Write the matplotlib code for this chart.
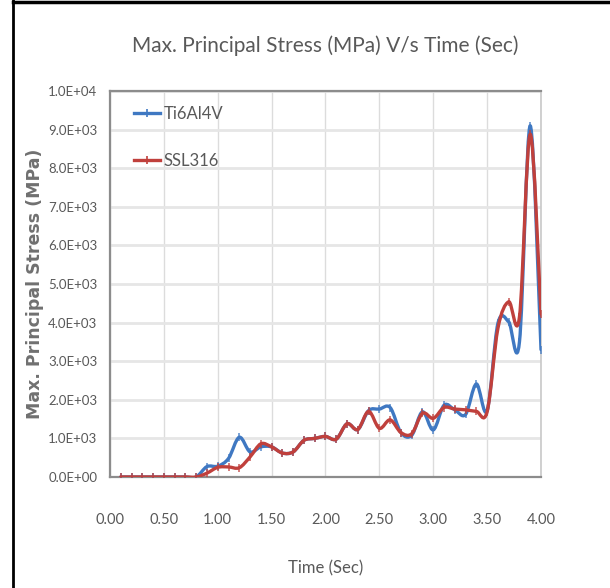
import numpy as np
import matplotlib
matplotlib.use("Agg")
from matplotlib import pyplot as plt
from matplotlib.path import Path
from matplotlib.patches import PathPatch
from matplotlib.lines import Line2D

# dati (passo 0.1 s)
time = [0.1, 0.2, 0.3, 0.4, 0.5, 0.6, 0.7, 0.8, 0.9, 1.0,
        1.1, 1.2, 1.3, 1.4, 1.5, 1.6, 1.7, 1.8, 1.9, 2.0,
        2.1, 2.2, 2.3, 2.4, 2.5, 2.6, 2.7, 2.8, 2.9, 3.0,
        3.1, 3.2, 3.3, 3.4, 3.5, 3.6, 3.7, 3.8, 3.9, 4.0]
ti6al4v = [0, 0, 0, 0, 0, 0, 0, 0, 270, 280,
           480, 1030, 650, 780, 780, 620, 650, 950, 1000, 1050,
           980, 1380, 1230, 1720, 1760, 1800, 1150, 1080, 1690, 1220,
           1860, 1740, 1620, 2410, 1720, 3980, 4020, 3500, 9100, 3300]
ssl316 = [0, 0, 0, 0, 0, 0, 0, 0, 100, 250,
          260, 240, 520, 860, 780, 620, 650, 950, 1000, 1050,
          980, 1380, 1230, 1700, 1260, 1480, 1150, 1120, 1650, 1520,
          1800, 1760, 1740, 1700, 1690, 3850, 4540, 4150, 8880, 4220]
series_names = ["Ti6Al4V", "SSL316"]
series_colors = ["#3f78c2", "#c0403c"]

xticks = [0.0, 0.5, 1.0, 1.5, 2.0, 2.5, 3.0, 3.5, 4.0]
yticks = list(range(0, 10001, 1000))

narrow = ["Lato", "DejaVu Sans"]
txt_col = "#595959"


def smooth_path(x, y):
    # linea "smussata" come in Excel: segmenti di Bezier cubici (Catmull-Rom)
    pts = np.column_stack([x, y]).astype(float)
    n = len(pts)
    verts = [pts[0]]
    codes = [Path.MOVETO]
    for i in range(n - 1):
        p0 = pts[i - 1] if i > 0 else pts[i]
        p1 = pts[i]
        p2 = pts[i + 1]
        p3 = pts[i + 2] if i + 2 < n else pts[i + 1]
        c1 = p1 + (p2 - p0) / 6
        c2 = p2 - (p3 - p1) / 6
        verts += [c1, c2, p2]
        codes += [Path.CURVE4] * 3
    return Path(verts, codes)


fig = plt.figure(figsize=(6.1, 5.88), dpi=100)
ax = fig.add_axes([0.1803, 0.1888, 0.7066, 0.6564])

for vals, name, col in zip([ti6al4v, ssl316], series_names, series_colors):
    patch = PathPatch(smooth_path(time, vals), facecolor="none", edgecolor=col,
                      lw=2.4, capstyle="round", joinstyle="round", zorder=3)
    ax.add_patch(patch)
    ax.plot(time, vals, ls="none", marker="|", ms=6, mew=1.2, color=col,
            alpha=0.8, zorder=3)

ax.set_xlim(0, 4)
ax.set_ylim(0, 10000)
ax.set_xticks(xticks)
ax.set_yticks(yticks)
ax.set_xticklabels([f"{v:.2f}" for v in xticks], family=narrow, fontsize=10.5, color=txt_col)
ax.set_yticklabels([f"{v:.1E}" for v in yticks], family=narrow, fontsize=9.5, color=txt_col)
ax.tick_params(axis="both", length=0)
ax.tick_params(axis="x", pad=26)
ax.tick_params(axis="y", pad=9)

ax.grid(axis="y", color="#e6e6e6", lw=2)
ax.grid(axis="x", color="#dcdcdc", lw=1)
ax.set_axisbelow(True)
for side in ["left", "bottom", "top"]:
    ax.spines[side].set_color("#8c8c8c")
    ax.spines[side].set_linewidth(1.6)
ax.spines["right"].set_color("#c8c8c8")
ax.spines["right"].set_linewidth(1.2)

ax.set_title("Max. Principal Stress (MPa) V/s Time (Sec)", family=narrow,
             fontsize=15, color=txt_col, pad=28)
ax.set_xlabel("Time (Sec)", family=narrow, fontsize=12, color=txt_col, labelpad=24)
ax.set_ylabel("Max. Principal Stress (MPa)", fontsize=12.5, fontweight="bold",
              color="#707070")
ax.yaxis.set_label_coords(-0.152, 0.5)

handles = [Line2D([0], [0], color=c, lw=2.4, marker="|", ms=6, mew=1.2)
           for c in series_colors]
leg = ax.legend(handles, series_names, loc="upper left", bbox_to_anchor=(0.02, 1.0),
                frameon=False, labelspacing=1.85, handlelength=1.6, handletextpad=0.2,
                prop={"family": narrow, "size": 12})
for t in leg.get_texts():
    t.set_color(txt_col)

# bordo nero del riquadro
fig.add_artist(Line2D([13 / 610, 13 / 610], [0, 1], color="black", lw=2,
                      transform=fig.transFigure))
fig.add_artist(Line2D([13 / 610, 1], [1 - 2 / 588, 1 - 2 / 588], color="black", lw=2.5,
                      transform=fig.transFigure))

fig.savefig("out.png", dpi=100)
